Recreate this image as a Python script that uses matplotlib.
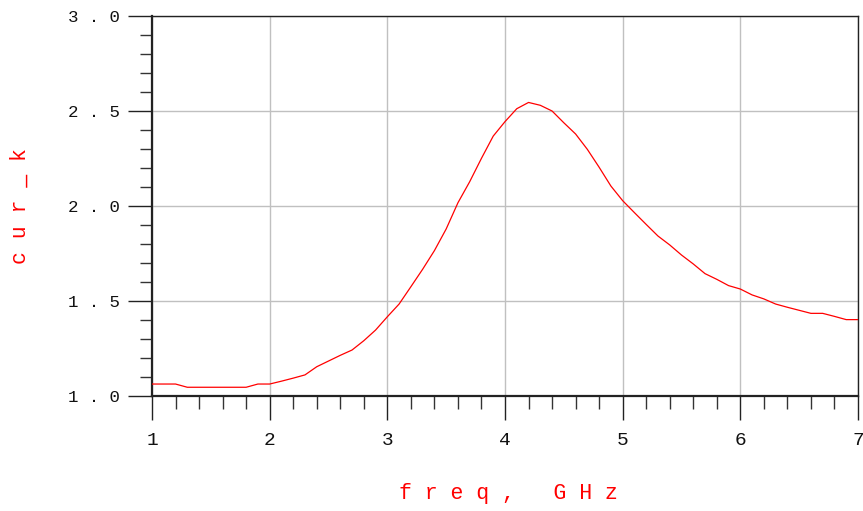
import matplotlib
matplotlib.use("Agg")
import matplotlib.pyplot as plt
from matplotlib.ticker import MultipleLocator

# data (freq in GHz, cur_k)
freq = [1.0, 1.1, 1.2, 1.3, 1.4, 1.5, 1.6, 1.7, 1.8, 1.9,
        2.0, 2.1, 2.2, 2.3, 2.4, 2.5, 2.6, 2.7, 2.8, 2.9,
        3.0, 3.1, 3.2, 3.3, 3.4, 3.5, 3.6, 3.7, 3.8, 3.9,
        4.0, 4.1, 4.2, 4.3, 4.4, 4.5, 4.6, 4.7, 4.8, 4.9,
        5.0, 5.1, 5.2, 5.3, 5.4, 5.5, 5.6, 5.7, 5.8, 5.9,
        6.0, 6.1, 6.2, 6.3, 6.4, 6.5, 6.6, 6.7, 6.8, 6.9, 7.0]
cur_k = [1.063, 1.063, 1.063, 1.046, 1.046, 1.046, 1.046, 1.046, 1.046, 1.063,
         1.063, 1.078, 1.094, 1.111, 1.154, 1.184, 1.214, 1.242, 1.291, 1.347,
         1.417, 1.484, 1.575, 1.667, 1.765, 1.879, 2.017, 2.128, 2.251, 2.368,
         2.444, 2.512, 2.545, 2.530, 2.500, 2.438, 2.379, 2.298, 2.204, 2.105,
         2.028, 1.965, 1.903, 1.842, 1.795, 1.742, 1.695, 1.644, 1.614, 1.581,
         1.563, 1.532, 1.511, 1.484, 1.467, 1.451, 1.435, 1.435, 1.419, 1.402, 1.402]

x_ticks = [1, 2, 3, 4, 5, 6, 7]
x_tick_labels = ["1", "2", "3", "4", "5", "6", "7"]
y_ticks = [1.0, 1.5, 2.0, 2.5, 3.0]
y_tick_labels = ["1 . 0", "1 . 5", "2 . 0", "2 . 5", "3 . 0"]

MONO = ["Liberation Mono", "DejaVu Sans Mono"]

fig = plt.figure(figsize=(8.63, 5.11), dpi=100)
fig.patch.set_facecolor("white")
ax = fig.add_axes([152 / 863, 115 / 511, 706 / 863, 380 / 511])

ax.plot(freq, cur_k, color="#ff0000", linewidth=0.9, zorder=3)

ax.set_xlim(1, 7)
ax.set_ylim(1.0, 3.0)

ax.set_xticks(x_ticks)
ax.set_xticklabels(x_tick_labels, family=MONO, fontsize=14)
ax.set_yticks(y_ticks)
ax.set_yticklabels(y_tick_labels, family=MONO, fontsize=12.5)
ax.xaxis.set_minor_locator(MultipleLocator(0.2))
ax.yaxis.set_minor_locator(MultipleLocator(0.1))

ax.tick_params(axis="both", which="major", direction="out", length=17,
               width=1.0, color="#222222", labelcolor="#111111")
ax.tick_params(axis="x", which="major", pad=9)
ax.tick_params(axis="y", which="major", pad=6)
ax.tick_params(axis="both", which="minor", direction="out", length=9,
               width=1.0, color="#333333")

ax.grid(True, which="major", color="#c0c0c0", linewidth=1.0, zorder=1)

ax.spines["left"].set_linewidth(1.6)
ax.spines["bottom"].set_linewidth(1.6)
ax.spines["top"].set_linewidth(1.0)
ax.spines["right"].set_linewidth(1.0)
for s in ax.spines.values():
    s.set_color("#222222")

fig.text(508 / 863, 1 - 493 / 511, "f r e q ,   G H z", color="#ff0000",
         family=MONO, fontsize=15.5, ha="center", va="center")
fig.text(20 / 863, 1 - 206 / 511, "c u r _ k", color="#ff0000",
         family=MONO, fontsize=15.5, ha="center", va="center", rotation=90)

fig.savefig("out.png", dpi=100, facecolor="white")
